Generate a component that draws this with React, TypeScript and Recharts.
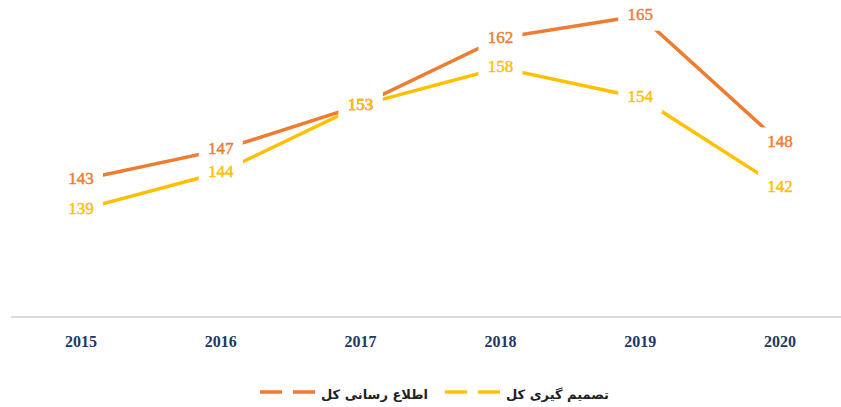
import React from 'react';
import { LineChart, Line, XAxis, YAxis, LabelList } from 'recharts';

// categories and series
const years = ['2015', '2016', '2017', '2018', '2019', '2020'];
const informTotal = [143, 147, 153, 162, 165, 148]; // اطلاع رسانی کل
const decisionTotal = [139, 144, 153, 158, 154, 142]; // تصمیم گیری کل

const ORANGE = '#ED7D31';
const YELLOW = '#FFC000';
const NAVY = '#203864';

const data = years.map((year, i) => ({
  year,
  inform: informTotal[i],
  decision: decisionTotal[i],
}));

const LabelBg = (props: any) => {
  const { x, y } = props;
  if (x == null || y == null) return null;
  return <rect x={x - 22} y={y - 15} width={44} height={30} fill="#ffffff" />;
};

const makeLabelText = (color: string) => (props: any) => {
  const { x, y, value } = props;
  if (x == null || y == null) return null;
  return (
    <text
      x={x}
      y={y + 4.5}
      textAnchor="middle"
      fill={color}
      stroke={color}
      strokeWidth={0.45}
      fontSize={17}
      fontFamily="'Liberation Serif', serif"
    >
      {value}
    </text>
  );
};

const YearTick = (props: any) => {
  const { x, y, payload } = props;
  return (
    <text
      x={x}
      y={y + 22}
      textAnchor="middle"
      fill={NAVY}
      fontSize={16}
      fontWeight="bold"
      fontFamily="'Liberation Serif', serif"
    >
      {payload.value}
    </text>
  );
};

const LegendItem = ({ color, label, left }: { color: string; label: string; left: number }) => (
  <div style={{ position: 'absolute', left, top: 385, display: 'flex', alignItems: 'center', height: 18 }}>
    <svg width={56} height={8} style={{ display: 'block', marginTop: -4 }}>
      <line x1={0} y1={4} x2={22} y2={4} stroke={color} strokeWidth={3.5} />
      <line x1={33} y1={4} x2={55} y2={4} stroke={color} strokeWidth={3.5} />
    </svg>
    <span
      dir="rtl"
      style={{
        marginLeft: 5,
        fontFamily: "'DejaVu Sans', sans-serif",
        fontWeight: 'bold',
        fontSize: 13,
        color: '#222',
        whiteSpace: 'nowrap',
      }}
    >
      {label}
    </span>
  </div>
);

export default function App() {
  return (
    <div style={{ position: 'absolute', left: 0, top: 0, width: 841, height: 407, overflow: 'hidden', background: '#fff' }}>
      <LineChart width={860} height={350} data={data} margin={{ top: 0, right: 10, left: 11, bottom: 0 }}>
        <XAxis
          dataKey="year"
          height={33}
          padding={{ left: 70, right: 70 }}
          axisLine={{ stroke: '#D9D9D9', strokeWidth: 2 }}
          tickLine={false}
          tick={<YearTick />}
          interval={0}
        />
        <YAxis hide type="number" domain={[124.6, 167.1]} allowDataOverflow />
        <Line type="linear" dataKey="inform" stroke={ORANGE} strokeWidth={3.5} dot={false} activeDot={false} isAnimationActive={false} />
        <Line type="linear" dataKey="decision" stroke={YELLOW} strokeWidth={3.5} dot={false} activeDot={false} isAnimationActive={false} />
        {/* label backgrounds first, so they cut both lines */}
        <Line dataKey="inform" stroke="none" dot={false} activeDot={false} legendType="none" isAnimationActive={false}>
          <LabelList dataKey="inform" content={<LabelBg />} />
        </Line>
        <Line dataKey="decision" stroke="none" dot={false} activeDot={false} legendType="none" isAnimationActive={false}>
          <LabelList dataKey="decision" content={<LabelBg />} />
        </Line>
        <Line dataKey="inform" stroke="none" dot={false} activeDot={false} legendType="none" isAnimationActive={false}>
          <LabelList dataKey="inform" content={makeLabelText(ORANGE)} />
        </Line>
        <Line dataKey="decision" stroke="none" dot={false} activeDot={false} legendType="none" isAnimationActive={false}>
          <LabelList dataKey="decision" content={makeLabelText(YELLOW)} />
        </Line>
      </LineChart>
      <LegendItem color={ORANGE} label="اطلاع رسانی کل" left={260} />
      <LegendItem color={YELLOW} label="تصمیم گیری کل" left={445} />
    </div>
  );
}
